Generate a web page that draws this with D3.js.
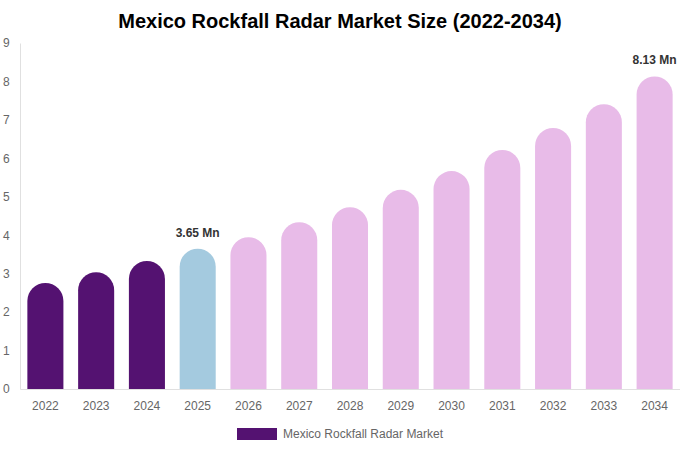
<!DOCTYPE html>
<html>
<head>
<meta charset="utf-8">
<script src="https://cdn.jsdelivr.net/npm/d3@7"></script>
<style>
  body { margin: 0; background: #fff; }
  svg { font-family: "Liberation Sans", Arial, sans-serif; }
</style>
</head>
<body>
<div id="chart"></div>
<script>
// chart data
const years = ["2022", "2023", "2024", "2025", "2026", "2027", "2028", "2029", "2030", "2031", "2032", "2033", "2034"];
const values = [2.76, 3.04, 3.33, 3.65, 3.95, 4.34, 4.73, 5.18, 5.67, 6.22, 6.79, 7.41, 8.13];
const kinds = ["hist", "hist", "hist", "base", "fc", "fc", "fc", "fc", "fc", "fc", "fc", "fc", "fc"];
const labels = { "2025": "3.65 Mn", "2034": "8.13 Mn" };
const yTicks = [0, 1, 2, 3, 4, 5, 6, 7, 8, 9];

const width = 680;
const height = 450;
const margin = { top: 43, right: 0, bottom: 61, left: 20 };

const colors = { hist: "#541271", base: "#a4cadf", fc: "#e8bbe8" };

const svg = d3.select("#chart")
  .append("svg")
  .attr("width", width)
  .attr("height", height);

// scales
const x = d3.scaleBand()
  .domain(years)
  .range([margin.left, width - margin.right])
  .paddingInner(0.29)
  .paddingOuter(0.145);

const y = d3.scaleLinear()
  .domain([0, 9])
  .range([height - margin.bottom, margin.top]);

// title
svg.append("text")
  .attr("x", width / 2)
  .attr("y", 28)
  .attr("text-anchor", "middle")
  .style("font-size", "20px")
  .style("font-weight", "bold")
  .style("fill", "#000")
  .text("Mexico Rockfall Radar Market Size (2022-2034)");

// y axis
const yAxis = svg.append("g")
  .attr("transform", `translate(${margin.left},0)`)
  .call(d3.axisLeft(y).tickValues(yTicks).tickSize(0).tickPadding(0));
yAxis.select(".domain").attr("stroke", "#e0e0e0");
yAxis.selectAll("text")
  .attr("x", -17)
  .attr("text-anchor", "start")
  .style("font-size", "12px")
  .style("fill", "#666");

// x axis
const xAxis = svg.append("g")
  .attr("transform", `translate(0,${height - margin.bottom})`)
  .call(d3.axisBottom(x).tickSize(0).tickPadding(12));
xAxis.select(".domain").attr("stroke", "#e0e0e0");
xAxis.selectAll("text")
  .style("font-size", "12px")
  .style("fill", "#666");

// bar with rounded top
function barPath(d, i) {
  const x0 = x(years[i]);
  const w = x.bandwidth();
  const r = w / 2;
  const top = y(d);
  const base = y(0);
  return `M${x0},${base} V${top + r} A${r},${r} 0 0 1 ${x0 + w},${top + r} V${base} Z`;
}

svg.append("g")
  .selectAll("path")
  .data(values)
  .enter()
  .append("path")
  .attr("d", barPath)
  .attr("fill", (d, i) => colors[kinds[i]]);

// value labels
svg.append("g")
  .selectAll("text")
  .data(years.filter(yr => labels[yr]))
  .enter()
  .append("text")
  .attr("x", yr => x(yr) + x.bandwidth() / 2)
  .attr("y", yr => y(values[years.indexOf(yr)]) - 12)
  .attr("text-anchor", "middle")
  .style("font-size", "12px")
  .style("font-weight", "bold")
  .style("fill", "#333")
  .text(yr => labels[yr]);

// legend
const legend = svg.append("g").attr("transform", "translate(237,428)");
legend.append("rect")
  .attr("width", 40)
  .attr("height", 12)
  .attr("fill", colors.hist);
legend.append("text")
  .attr("x", 46)
  .attr("y", 10)
  .style("font-size", "12px")
  .style("fill", "#666")
  .text("Mexico Rockfall Radar Market");
</script>
</body>
</html>
